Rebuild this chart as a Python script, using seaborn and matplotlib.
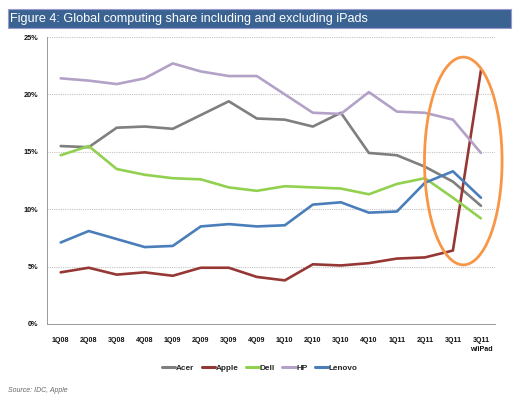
import numpy as np
import pandas as pd
import matplotlib
matplotlib.use("Agg")
import matplotlib.pyplot as plt
from matplotlib.patches import Ellipse, Rectangle
import seaborn as sns

quarters = ["1Q08", "2Q08", "3Q08", "4Q08", "1Q09", "2Q09", "3Q09", "4Q09",
            "1Q10", "2Q10", "3Q10", "4Q10", "1Q11", "2Q11", "3Q11", "3Q11\nw/iPad"]
brands = ["Acer", "Apple", "Dell", "HP", "Lenovo"]
acer = [15.5, 15.4, 17.1, 17.2, 17.0, 18.2, 19.4, 17.9, 17.8, 17.2, 18.4, 14.9, 14.7, 13.7, 12.4, 10.3]
apple = [4.5, 4.9, 4.3, 4.5, 4.2, 4.9, 4.9, 4.1, 3.8, 5.2, 5.1, 5.3, 5.7, 5.8, 6.4, 22.1]
dell = [14.7, 15.5, 13.5, 13.0, 12.7, 12.6, 11.9, 11.6, 12.0, 11.9, 11.8, 11.3, 12.2, 12.7, 11.0, 9.2]
hp = [21.4, 21.2, 20.9, 21.4, 22.7, 22.0, 21.6, 21.6, 20.0, 18.4, 18.3, 20.2, 18.5, 18.4, 17.8, 14.9]
lenovo = [7.1, 8.1, 7.4, 6.7, 6.8, 8.5, 8.7, 8.5, 8.6, 10.4, 10.6, 9.7, 9.8, 12.3, 13.3, 11.0]
y_ticks = [0, 5, 10, 15, 20, 25]

colors = {"Acer": "#7f7f7f", "Apple": "#953735", "Dell": "#92d050",
          "HP": "#b3a2c7", "Lenovo": "#4a7ebb"}

series = {"Acer": acer, "Apple": apple, "Dell": dell, "HP": hp, "Lenovo": lenovo}
rows = []
for b in brands:
    for i, v in enumerate(series[b]):
        rows.append({"idx": i, "share": v, "brand": b})
df = pd.DataFrame(rows)

sns.set_style("white")
plt.rcParams["font.family"] = ["Liberation Sans", "DejaVu Sans"]

fig = plt.figure(figsize=(5.2, 4.0), dpi=100)
ax = fig.add_axes([0.0898, 0.19, 0.862, 0.7175])

sns.lineplot(data=df, x="idx", y="share", hue="brand", hue_order=brands,
             palette=colors, linewidth=1.9, ax=ax, legend=True)

ax.set_xlim(-0.5, len(quarters) - 0.5)
ax.set_ylim(0, 25)
ax.set_yticks(y_ticks)
ax.set_yticklabels([f"{t}%" for t in y_ticks], fontsize=5.3, fontweight="bold", color="#111111")
ax.set_xticks(range(len(quarters)))
ax.set_xticklabels(quarters, fontsize=5.1, fontweight="bold", color="#111111", linespacing=1.5)
ax.set_xticks(np.arange(-0.5, len(quarters) + 0.5, 1), minor=True)
ax.tick_params(axis="x", which="major", length=0, pad=9)
ax.tick_params(axis="x", which="minor", length=3, color="#999999", width=0.6)
ax.tick_params(axis="y", which="major", length=3, color="#999999", width=0.6, pad=3)
ax.set_xlabel("")
ax.set_ylabel("")
ax.grid(axis="y", linestyle=(0, (1, 1)), color="#c4c4c4", linewidth=0.8)
ax.set_axisbelow(True)
for s in ["top", "right"]:
    ax.spines[s].set_visible(False)
for s in ["left", "bottom"]:
    ax.spines[s].set_color("#999999")
    ax.spines[s].set_linewidth(0.7)

ell = Ellipse((14.37, 14.2), width=2.77, height=18.1, fill=False,
              edgecolor="#f79646", linewidth=2.0, zorder=5, clip_on=False)
ax.add_patch(ell)

sns.move_legend(ax, "center", bbox_to_anchor=(0.5, 0.08), bbox_transform=fig.transFigure,
                ncol=5, frameon=False, title=None, fontsize=5.9,
                handlelength=1.6, handletextpad=0.1, columnspacing=0.9)
for line in ax.get_legend().get_lines():
    line.set_linewidth(2.2)
for t in ax.get_legend().get_texts():
    t.set_fontweight("bold")

# Title bar
fig.patches.append(Rectangle((8 / 520, 1 - 28 / 400), 503 / 520, 19 / 400,
                             transform=fig.transFigure, facecolor="#3a6391",
                             edgecolor="#9a9ad0", linewidth=0.8))
fig.text(10 / 520, 1 - 18.7 / 400, "Figure 4: Global computing share including and excluding iPads",
         color="white", fontsize=9.1, va="center", ha="left")
fig.text(8 / 520, 1 - 390 / 400, "Source: IDC, Apple", fontsize=5, style="italic",
         color="#666666", va="center", ha="left")

fig.savefig("out.png", dpi=100)
